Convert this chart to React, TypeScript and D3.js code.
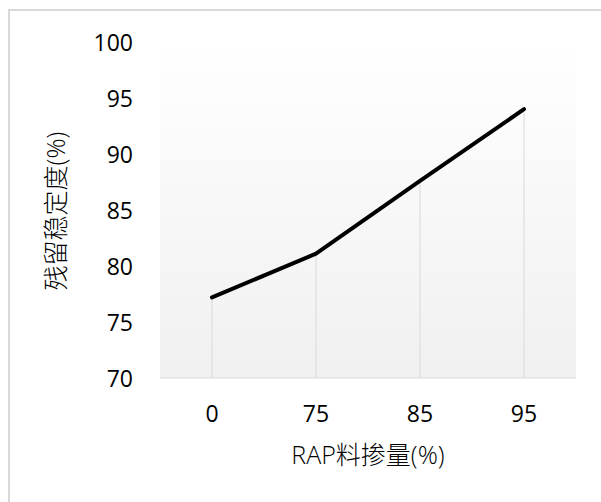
import React from "react";
import * as d3 from "d3";

const categories: string[] = ["0", "75", "85", "95"];
const values: number[] = [77.2, 81.1, 87.6, 94.0];
const yTicks: number[] = [70, 75, 80, 85, 90, 95, 100];
const xTitle = "RAP料掺量(%)";
const yTitle = "残留稳定度(%)";

export default function App() {
  const W = 601, H = 502;
  const left = 160, right = 576, top = 42, bottom = 378;
  const x = d3.scaleBand<string>().domain(categories).range([left, right]);
  const y = d3.scaleLinear().domain([70, 100]).range([bottom, top]);
  const line = d3
    .line<number>()
    .x((_, i) => (x(categories[i]) as number) + x.bandwidth() / 2)
    .y((d) => y(d));
  const font = "'Open Sans', 'Noto Sans CJK SC', sans-serif";
  return (
    <svg
      width={W}
      height={H}
      style={{ position: "absolute", left: 0, top: 0, background: "#fff" }}
    >
      <defs>
        <linearGradient id="pg" x1="0" y1="0" x2="0" y2="1">
          <stop offset="0" stopColor="#ffffff" />
          <stop offset="1" stopColor="#f0f0f0" />
        </linearGradient>
      </defs>
      <rect x={9} y={10} width={W + 20} height={H + 20} fill="#fff" stroke="#d9d9d9" strokeWidth={2} />
      <rect x={left} y={top} width={right - left} height={bottom - top} fill="url(#pg)" />
      {categories.map((c, i) => {
        const cx = (x(c) as number) + x.bandwidth() / 2;
        return (
          <line key={"d" + c} x1={cx} x2={cx} y1={y(values[i])} y2={bottom} stroke="#d9d9d9" strokeWidth={1} />
        );
      })}
      <line x1={left} x2={right} y1={bottom} y2={bottom} stroke="#d9d9d9" strokeWidth={1} />
      <path d={line(values) || ""} fill="none" stroke="#000" strokeWidth={4} strokeLinecap="round" strokeLinejoin="round" />
      {yTicks.map((t) => (
        <text key={"y" + t} x={133} y={y(t)} textAnchor="end" dominantBaseline="central" fontFamily={font} fontSize={23} fill="#000">
          {t}
        </text>
      ))}
      {categories.map((c) => (
        <text key={"x" + c} x={(x(c) as number) + x.bandwidth() / 2} y={413} textAnchor="middle" dominantBaseline="central" fontFamily={font} fontSize={23} fill="#000">
          {c}
        </text>
      ))}
      <text x={368} y={454} textAnchor="middle" dominantBaseline="central" fontFamily={font} fontSize={25} fontWeight={300} fill="#000">
        {xTitle}
      </text>
      <text transform={`translate(55, ${(top + bottom) / 2 + 1}) rotate(-90)`} textAnchor="middle" dominantBaseline="central" fontFamily={font} fontSize={25} fontWeight={300} fill="#000">
        {yTitle}
      </text>
    </svg>
  );
}
